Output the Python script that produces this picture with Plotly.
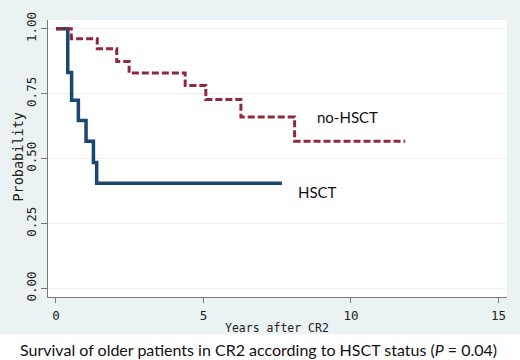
import plotly.graph_objects as go

# Kaplan-Meier step data
hsct_years = [0, 0.40, 0.53, 0.76, 1.02, 1.27, 1.38, 7.66]
hsct_prob = [1.0, 0.832, 0.725, 0.647, 0.567, 0.485, 0.405, 0.405]

nohsct_years = [0, 0.52, 1.40, 2.06, 2.48, 4.38, 5.08, 6.27, 8.09, 11.84]
nohsct_prob = [1.0, 0.962, 0.923, 0.874, 0.830, 0.782, 0.728, 0.660, 0.567, 0.567]

x_ticks = [0, 5, 10, 15]
y_ticks = [0.0, 0.25, 0.5, 0.75, 1.0]
y_tick_labels = ["0.00", "0.25", "0.50", "0.75", "1.00"]

group_labels = ["HSCT", "no-HSCT"]
label_pos_x = [8.14, 8.79]
label_pos_y = [0.372, 0.659]

x_title = "Years after CR2"
y_title = "Probability"
caption = "Survival of older patients in CR2 according to HSCT status (<i>P</i> = 0.04)"

BG = "#EAF2F4"
MONO = "DejaVu Sans Mono, monospace"
TICKFONT = dict(family=MONO, size=12.5, color="#222222")

fig = go.Figure()
fig.add_trace(go.Scatter(x=hsct_years, y=hsct_prob, mode="lines", line_shape="hv",
                         line=dict(color="#1A476F", width=3.5), name="HSCT"))
fig.add_trace(go.Scatter(x=nohsct_years, y=nohsct_prob, mode="lines", line_shape="hv",
                         line=dict(color="#8E2A3B", width=3, dash="7px,3px"), name="no-HSCT"))

for lab, lx, ly in zip(group_labels, label_pos_x, label_pos_y):
    fig.add_annotation(x=lx, y=ly, text=lab, showarrow=False, xanchor="left", yanchor="middle",
                       font=dict(family="Lato, Open Sans, sans-serif", size=15, color="#111111"))

# white band under the chart region for the caption
fig.add_shape(type="rect", xref="paper", yref="paper",
              x0=-48 / 459, x1=(520 - 48) / 459, y0=(297 - 362) / 282, y1=(297 - 335) / 282,
              fillcolor="white", line=dict(width=0), layer="below")

fig.add_annotation(xref="paper", yref="paper", x=(258 - 48) / 459, y=(297 - 350) / 282,
                   text=caption, showarrow=False, xanchor="center", yanchor="middle",
                   font=dict(family="Lato, Open Sans, sans-serif", size=16, color="#111111"))

# axis titles
fig.add_annotation(xref="paper", yref="paper", x=(18 - 48) / 459, y=(297 - 155) / 282,
                   text=y_title, textangle=-90, showarrow=False, xanchor="center", yanchor="middle",
                   font=dict(family=MONO, size=13.5, color="#222222"))
fig.add_annotation(xref="paper", yref="paper", x=(277 - 48) / 459, y=(297 - 329) / 282,
                   text=x_title, showarrow=False, xanchor="center", yanchor="middle",
                   font=dict(family=MONO, size=11.5, color="#222222"))

fig.update_layout(
    width=520, height=360,
    margin=dict(l=48, r=13, t=15, b=63),
    paper_bgcolor=BG, plot_bgcolor="white",
    showlegend=False,
    xaxis=dict(range=[-0.27, 15.29], tickvals=x_ticks, ticktext=[str(v) for v in x_ticks],
               showgrid=False, zeroline=False, showline=True, linecolor="#7a7a7a", linewidth=1,
               ticks="outside", ticklen=5, tickcolor="#7a7a7a", tickfont=TICKFONT,
               ticklabelstandoff=2),
    yaxis=dict(range=[-0.033, 1.034], tickvals=y_ticks, ticktext=y_tick_labels, tickangle=-90,
               showgrid=True, gridcolor="#EAF2F4", gridwidth=1, zeroline=False,
               showline=True, linecolor="#7a7a7a", linewidth=1,
               ticks="outside", ticklen=6, tickcolor="#7a7a7a", tickfont=TICKFONT),
)

fig.write_html("out.html", config={"displayModeBar": False},
               post_script="document.body.style.margin='0';document.body.style.padding='0';")
